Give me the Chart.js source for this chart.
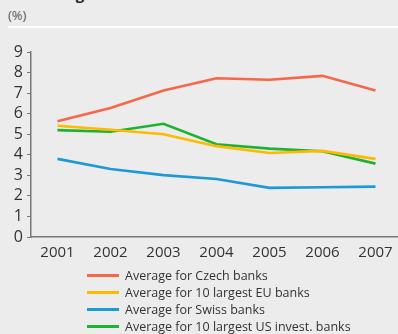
<!DOCTYPE html>
<html>
<head>
<meta charset="utf-8">
<script src="https://cdn.jsdelivr.net/npm/chart.js@4/dist/chart.umd.min.js"></script>
<style>
  html, body { margin:0; padding:0; background:#ececec; width:398px; height:334px; overflow:hidden; font-family:"Open Sans", "Noto Sans", sans-serif; }
  #title { position:absolute; left:8px; top:-16px; font-weight:bold; font-size:15px; color:#222; white-space:nowrap; }
  #unit { position:absolute; left:8px; top:6px; font-size:13px; color:#555; }
  #rule { position:absolute; left:8px; top:26px; width:400px; height:2px; background:#fff; }
  #wrap { position:absolute; left:0; top:0; width:402px; height:269px; }
  #legend { position:absolute; left:87px; top:267px; font-size:12.5px; color:#333; }
  .row { height:17px; line-height:17px; white-space:nowrap; display:flex; align-items:center; }
  .sw { width:32px; height:3px; margin-right:6px; }
</style>
</head>
<body>
<div id="title">and foreign banks</div>
<div id="unit">(%)</div>
<div id="rule"></div>
<div id="wrap"><canvas id="c"></canvas></div>
<div id="legend"></div>
<script>
const years = ["2001","2002","2003","2004","2005","2006","2007"];
const czech = [5.63, 6.28, 7.13, 7.72, 7.65, 7.84, 7.13];
const eu10 = [5.41, 5.22, 5.00, 4.42, 4.09, 4.19, 3.80];
const swiss = [3.80, 3.31, 3.01, 2.82, 2.39, 2.42, 2.45];
const us10 = [5.20, 5.12, 5.51, 4.51, 4.30, 4.17, 3.57];
const seriesNames = ["Average for Czech banks", "Average for 10 largest EU banks", "Average for Swiss banks", "Average for 10 largest US invest. banks"];
const colors = ["#f8664a", "#ffb900", "#1d9ad6", "#1fb232"];
const values = [czech, eu10, swiss, us10];
const yTicks = [0,1,2,3,4,5,6,7,8,9];

const datasets = values.map((v,i) => ({
  label: seriesNames[i], data: v, borderColor: colors[i], backgroundColor: colors[i],
  borderWidth: 2.6, pointRadius: 0, tension: 0, fill: false
}));
datasets[0].order = 4; datasets[2].order = 3; datasets[3].order = 2; datasets[1].order = 1;

new Chart(document.getElementById('c'), {
  type: 'line',
  data: { labels: years, datasets },
  options: {
    responsive: true, maintainAspectRatio: false, animation: false,
    layout: { padding: { top: 52, left: 0, right: 0, bottom: 0 } },
    plugins: { legend: { display: false }, tooltip: { enabled: false } },
    scales: {
      x: {
        offset: true,
        grid: { display: true, drawOnChartArea: false, drawTicks: false },
        border: { display: true, color: '#777', width: 1.5 },
        ticks: { color: '#333', font: { family: 'Open Sans', size: 15 }, padding: 7, maxRotation: 0, autoSkip: false }
      },
      y: {
        min: 0, max: 9,
        afterFit: s => { s.width = 31; },
        afterBuildTicks: s => { s.ticks = yTicks.map(v => ({ value: v })); },
        grid: { drawOnChartArea: false, drawTicks: true, tickLength: 4, color: '#777' },
        border: { display: true, color: '#777', width: 1.5 },
        ticks: { color: '#333', font: { family: 'Open Sans', size: 16 }, padding: 4, autoSkip: false, stepSize: 1 }
      }
    }
  }
});

const lg = document.getElementById('legend');
seriesNames.forEach((n,i) => {
  const r = document.createElement('div'); r.className = 'row';
  const s = document.createElement('div'); s.className = 'sw'; s.style.background = colors[i];
  const t = document.createElement('span'); t.textContent = n;
  r.appendChild(s); r.appendChild(t); lg.appendChild(r);
});
</script>
</body>
</html>
